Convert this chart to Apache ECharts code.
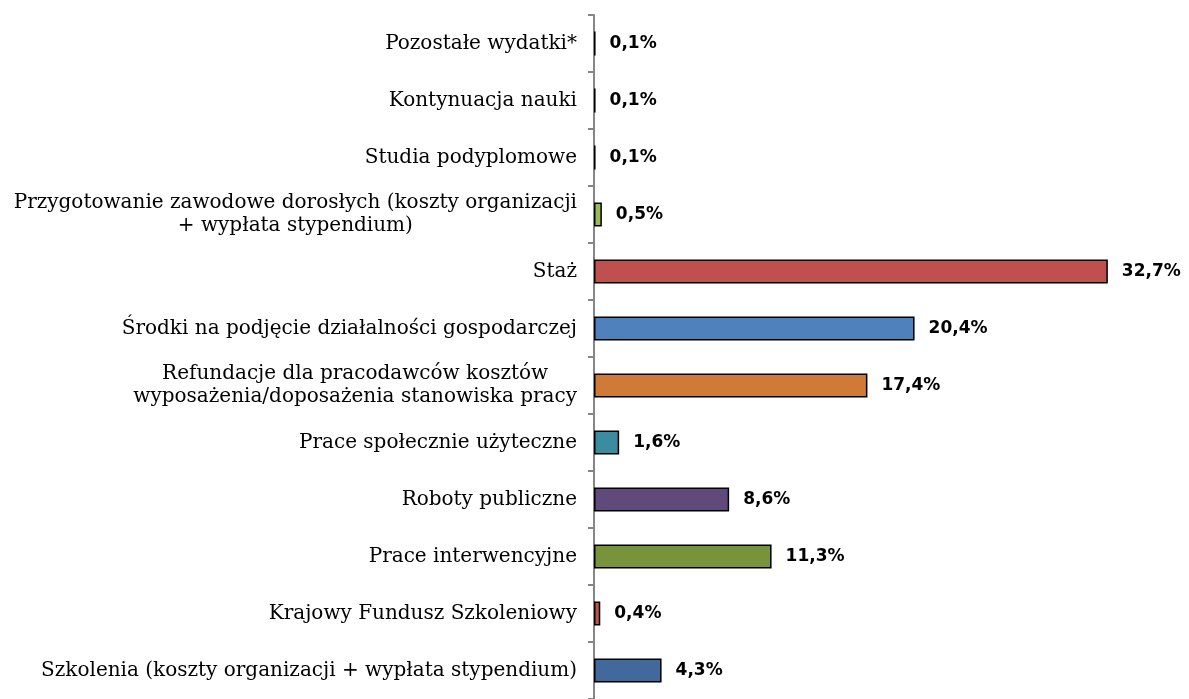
<!DOCTYPE html>
<html><head><meta charset="utf-8">
<script src="https://cdn.jsdelivr.net/npm/echarts@6/dist/echarts.min.js"></script>
<style>html,body{margin:0;padding:0;background:#fff}#c{width:1189px;height:699px}</style>
</head><body><div id="c"></div>
<script>
const categories = [
  "Szkolenia (koszty organizacji + wypłata stypendium)",
  "Krajowy Fundusz Szkoleniowy",
  "Prace interwencyjne",
  "Roboty publiczne",
  "Prace społecznie użyteczne",
  "Refundacje dla pracodawców kosztów\nwyposażenia/doposażenia stanowiska pracy",
  "Środki na podjęcie działalności gospodarczej",
  "Staż",
  "Przygotowanie zawodowe dorosłych (koszty organizacji\n+ wypłata stypendium)",
  "Studia podyplomowe",
  "Kontynuacja nauki",
  "Pozostałe wydatki*"
];
const values = [4.3, 0.4, 11.3, 8.6, 1.6, 17.4, 20.4, 32.7, 0.5, 0.1, 0.1, 0.1];
const colors = ["#41699b", "#c0504d", "#77933c", "#604a7b", "#3a8ca0", "#cf7a36", "#4f81bd", "#c0504d", "#9bbb59", "#4f81bd", "#c0504d", "#9bbb59"];

const chart = echarts.init(document.getElementById('c'));
chart.setOption({
  animation: false,
  grid: { left: 594, right: 45, top: 15, bottom: -8, containLabel: false },
  xAxis: { type: 'value', min: 0, max: 35, show: false, splitLine: { show: false } },
  yAxis: {
    type: 'category',
    data: categories,
    axisLine: { show: true, lineStyle: { color: '#868686', width: 2 } },
    axisTick: { show: true, length: 6, lineStyle: { color: '#868686', width: 2 } },
    axisLabel: {
      margin: 17,
      color: '#000',
      fontFamily: 'DejaVu Serif',
      fontSize: 20,
      lineHeight: 23,
      formatter: v => v.split('\n').map(s => '{c|' + s + '}').join('\n'),
      rich: { c: { align: 'center', fontFamily: 'DejaVu Serif', fontSize: 20, lineHeight: 23, color: '#000' } }
    }
  },
  series: [{
    type: 'bar',
    data: values.map((v, i) => ({ value: v, itemStyle: { color: colors[i] } })),
    barWidth: 24,
    itemStyle: { borderColor: '#000', borderWidth: 1.5 },
    label: {
      show: true,
      position: 'right',
      distance: 14,
      fontFamily: 'DejaVu Sans',
      fontWeight: 'bold',
      fontSize: 17,
      color: '#000',
      formatter: p => p.value.toFixed(1).replace('.', ',') + '%'
    }
  }]
});
</script></body></html>
